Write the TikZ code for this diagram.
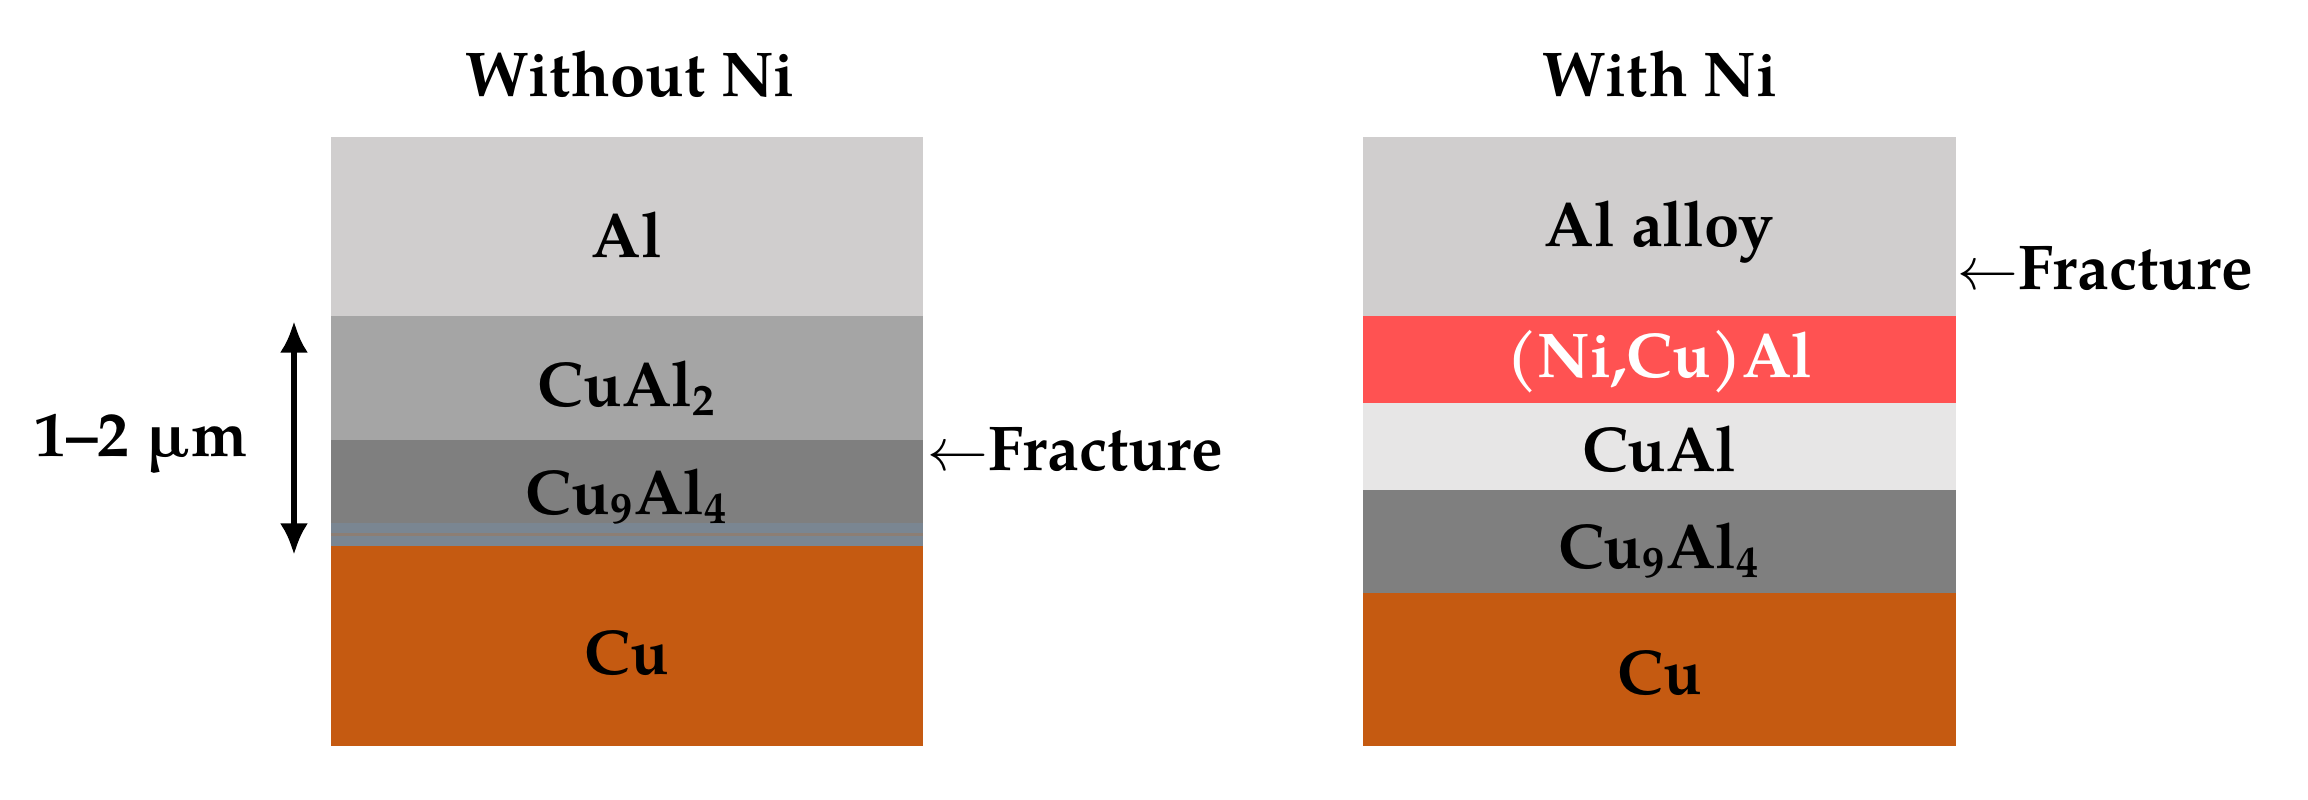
\documentclass[tikz,border=0pt]{standalone}
\usepackage{fontspec}
\setmainfont{texgyrepagella}[Extension=.otf,UprightFont=*-regular,BoldFont=*-bold,ItalicFont=*-italic,BoldItalicFont=*-bolditalic]
\usetikzlibrary{arrows.meta}
\definecolor{alc}{RGB}{208,206,206}
\definecolor{cual2c}{RGB}{165,165,165}
\definecolor{cu9c}{RGB}{127,127,127}
\definecolor{cuc}{RGB}{197,90,17}
\definecolor{nic}{RGB}{255,82,82}
\definecolor{cualc}{RGB}{231,230,230}
\definecolor{stripc}{RGB}{122,134,146}
\definecolor{stripl}{RGB}{140,126,116}
\tikzset{
  layer/.style={draw=none,inner sep=0pt,outer sep=0pt,minimum width=5.92cm},
  txt/.style={inner sep=0pt,font=\fontsize{18}{20}\selectfont\bfseries},
  dimarrow/.style={line width=1.7pt,{Latex[length=9pt,width=8pt]}-{Latex[length=9pt,width=8pt]}}
}
\begin{document}
\begin{tikzpicture}[x=0.01cm,y=-0.01cm]
\useasboundingbox (0,0) rectangle (2308,800);
% left stack
\node[layer,fill=alc,minimum height=1.79cm] (lal) at (627,226.5) {};
\node[layer,fill=cual2c,minimum height=1.24cm] (lcual2) at (627,378) {};
\node[layer,fill=cu9c,minimum height=1.06cm] (lcu9) at (627,493) {};
\node[layer,fill=stripc,minimum height=0.23cm] (lstrip) at (627,534.5) {};
\draw[stripl,line width=0.8pt] (lstrip.west) -- (lstrip.east);
\node[layer,fill=cuc,minimum height=2.00cm] (lcu) at (627,646) {};
% right stack
\node[layer,fill=alc,minimum height=1.79cm] (ral) at (1659.5,226.5) {};
\node[layer,fill=nic,minimum height=0.87cm] (rni) at (1659.5,359.5) {};
\node[layer,fill=cualc,minimum height=0.87cm] (rcual) at (1659.5,446.5) {};
\node[layer,fill=cu9c,minimum height=1.03cm] (rcu9) at (1659.5,541.5) {};
\node[layer,fill=cuc,minimum height=1.53cm] (rcu) at (1659.5,669.5) {};
% titles
\node[txt] (t1) at (630,74) {Without Ni};
\node[txt] (t2) at (1660,74) {With Ni};
% left labels
\node[txt] (xal) at (627,235) {Al};
\node[txt] (xcual2) at (627,388) {CuAl\textsubscript{2}};
\node[txt] (xcu9) at (627,497) {Cu\textsubscript{9}Al\textsubscript{4}};
\node[txt] (xcu) at (627,653) {Cu};
% right labels
\node[txt] (yal) at (1659.5,232) {Al alloy};
\node[txt,text=white] (yni) at (1659.5,362) {(Ni,Cu)Al};
\node[txt] (ycual) at (1659.5,449) {CuAl};
\node[txt] (ycu9) at (1659.5,551) {Cu\textsubscript{9}Al\textsubscript{4}};
\node[txt] (ycu) at (1659.5,673) {Cu};
% fracture labels
\node[txt,anchor=west] (f1) at (927,449) {\mdseries$\leftarrow$\bfseries Fracture};
\node[txt,anchor=west] (f2) at (1957,268) {\mdseries$\leftarrow$\bfseries Fracture};
% dimension
\coordinate (d1) at (294,321);
\coordinate (d2) at (294,555);
\draw[dimarrow] (d1) -- (d2);
\node[txt] (dim) at (141,444) {1–2 µm};
\end{tikzpicture}
\end{document}
